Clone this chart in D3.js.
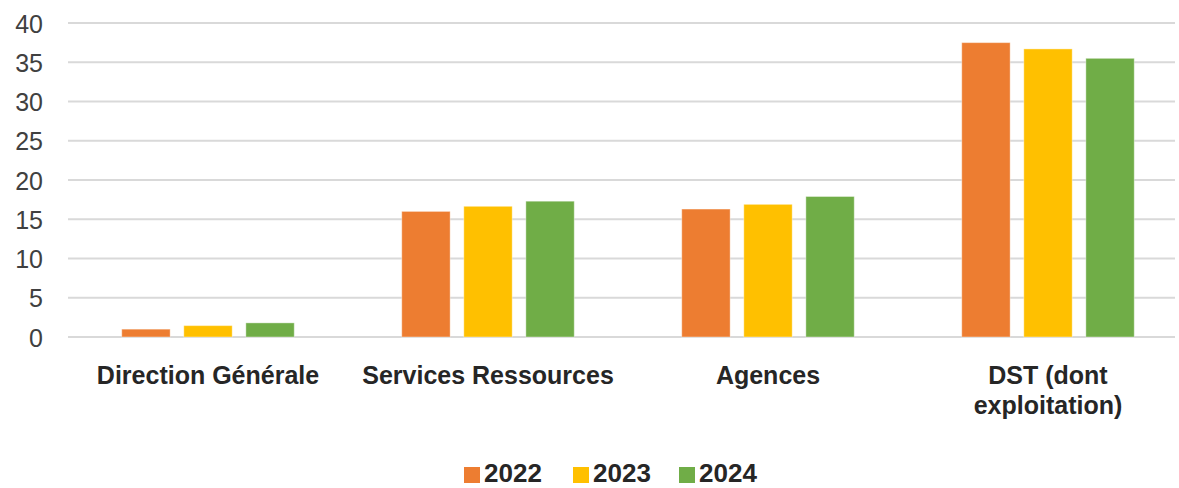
<!DOCTYPE html>
<html>
<head>
<meta charset="utf-8">
<script src="https://d3js.org/d3.v7.min.js"></script>
<style>
  body { margin: 0; background: #fff; }
  svg { display: block; font-family: "Liberation Sans", Arial, sans-serif; }
</style>
</head>
<body>
<svg></svg>
<script>
var width = 1179;
var height = 488;

var categories = ["Direction Générale", "Services Ressources", "Agences", "DST (dont exploitation)"];
var years = ["2022", "2023", "2024"];
var values2022 = [1.0, 16.0, 16.3, 37.5];
var values2023 = [1.45, 16.65, 16.9, 36.7];
var values2024 = [1.8, 17.3, 17.9, 35.5];
var yTicks = [0, 5, 10, 15, 20, 25, 30, 35, 40];
var colors = ["#ED7D31", "#FFC000", "#70AD47"];

var series = [values2022, values2023, values2024];

var svg = d3.select("svg")
            .attr("width", width)
            .attr("height", height);

var margin = { left: 68, top: 23, bottom: 337 };
var gridRight = 1175;

var y = d3.scaleLinear().domain([0, 40]).range([margin.bottom, margin.top]);
var x0 = d3.scaleBand().domain(categories).range([68, 1188]).padding(0);
var groupWidth = 172.5;
var x1 = d3.scaleBand().domain(years).range([0, groupWidth]).paddingInner(0.22).paddingOuter(0);

// gridlines
svg.append("g")
    .attr("class", "grid")
  .selectAll("line")
  .data(yTicks)
  .enter().append("line")
    .attr("x1", margin.left)
    .attr("x2", gridRight)
    .attr("y1", function(d) { return y(d); })
    .attr("y2", function(d) { return y(d); })
    .attr("stroke", "#d9d9d9")
    .attr("stroke-width", 2);

// y axis labels
var yAxis = d3.axisLeft(y).tickValues(yTicks).tickSize(0).tickPadding(0);
var yg = svg.append("g")
    .attr("transform", "translate(43,0)")
    .call(yAxis);
yg.select(".domain").remove();
yg.selectAll("text")
    .attr("font-family", "Liberation Sans, Arial, sans-serif")
    .attr("font-size", 25)
    .attr("fill", "#404040")
    .attr("dy", "0.36em");

// bars
var groups = svg.append("g")
  .selectAll("g")
  .data(categories)
  .enter().append("g")
    .attr("transform", function(d) {
      return "translate(" + (x0(d) + (x0.bandwidth() - groupWidth) / 2) + ",0)";
    });

groups.selectAll("rect")
  .data(function(d, i) {
    return years.map(function(yr, j) { return { year: yr, value: series[j][i], idx: j }; });
  })
  .enter().append("rect")
    .attr("x", function(d) { return x1(d.year); })
    .attr("y", function(d) { return y(d.value); })
    .attr("width", x1.bandwidth())
    .attr("height", function(d) { return y(0) - y(d.value); })
    .attr("fill", function(d) { return colors[d.idx]; })
    .attr("stroke", "#fff")
    .attr("stroke-opacity", 0.4)
    .attr("stroke-width", 1);

// category labels
var labelLines = {
  "Direction Générale": ["Direction Générale"],
  "Services Ressources": ["Services Ressources"],
  "Agences": ["Agences"],
  "DST (dont exploitation)": ["DST (dont", "exploitation)"]
};

var catLabels = svg.append("g")
  .selectAll("text")
  .data(categories)
  .enter().append("text")
    .attr("x", function(d) { return x0(d) + x0.bandwidth() / 2; })
    .attr("y", 384)
    .attr("text-anchor", "middle")
    .attr("font-weight", "bold")
    .attr("font-size", 25)
    .attr("fill", "#262626");

catLabels.selectAll("tspan")
  .data(function(d) { return labelLines[d]; })
  .enter().append("tspan")
    .attr("x", function() { var c = d3.select(this.parentNode).datum(); return x0(c) + x0.bandwidth() / 2; })
    .attr("dy", function(d, i) { return i === 0 ? 0 : 30; })
    .text(function(d) { return d; });

// legend
var legendX = [464, 573, 679];
var legend = svg.append("g")
  .selectAll("g")
  .data(years)
  .enter().append("g")
    .attr("transform", function(d, i) { return "translate(" + legendX[i] + ",467)"; });

legend.append("rect")
    .attr("width", 16)
    .attr("height", 16)
    .attr("fill", function(d, i) { return colors[i]; });

legend.append("text")
    .attr("x", 20)
    .attr("y", 15)
    .attr("font-weight", "bold")
    .attr("font-size", 26)
    .attr("fill", "#262626")
    .text(function(d) { return d; });
</script>
</body>
</html>
